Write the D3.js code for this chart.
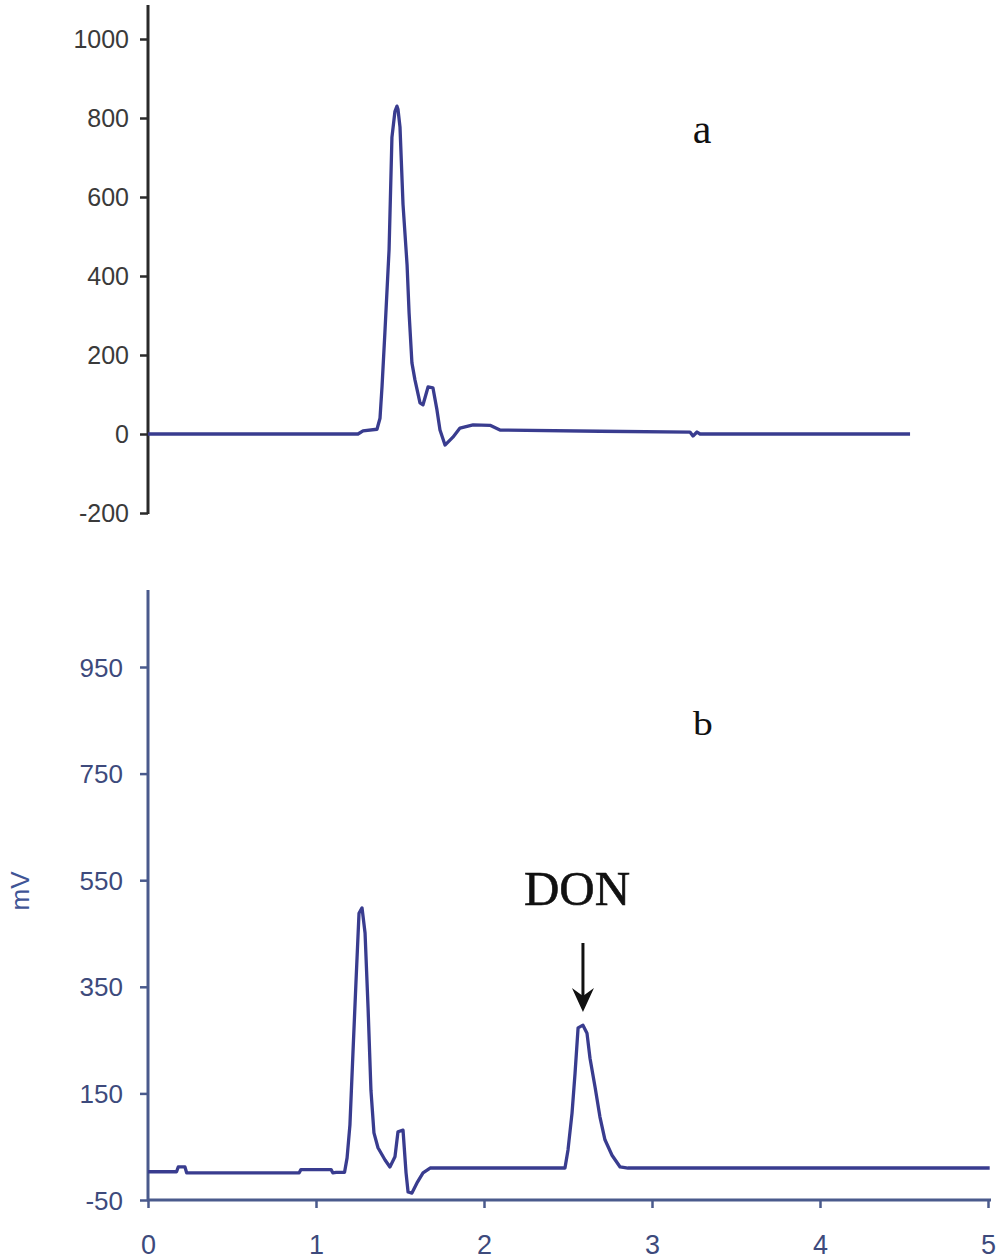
<!DOCTYPE html>
<html><head><meta charset="utf-8">
<script src="https://cdn.jsdelivr.net/npm/d3@7"></script>
<style>body{margin:0;background:#fff}</style>
</head><body>
<svg id="c" width="1000" height="1260"></svg>
<script>
// Panel a (top) chromatogram: time (min) and signal
const timeA = [0, 1.25, 1.28, 1.363, 1.381, 1.393, 1.41, 1.435, 1.452, 1.47, 1.482, 1.488, 1.5, 1.518, 1.542, 1.554, 1.571, 1.589, 1.619, 1.637, 1.667, 1.696, 1.72, 1.738, 1.768, 1.815, 1.857, 1.935, 2.036, 2.095, 2.69, 3.226, 3.244, 3.268, 3.286, 4.536];
const signalA = [0, 0, 8, 12, 40, 120, 256, 467, 751, 817, 830, 822, 777, 581, 429, 307, 180, 137, 79, 74, 119, 117, 61, 10, -28, -8, 15, 23, 22, 10, 7, 5, -5, 5, 0, 0];
// Panel b (bottom) chromatogram
const timeB = [0, 0.17, 0.18, 0.22, 0.23, 0.9, 0.91, 1.09, 1.1, 1.12, 1.17, 1.185, 1.202, 1.22, 1.238, 1.256, 1.274, 1.292, 1.31, 1.327, 1.345, 1.369, 1.411, 1.44, 1.47, 1.488, 1.518, 1.536, 1.548, 1.571, 1.601, 1.637, 1.679, 2.482, 2.5, 2.524, 2.542, 2.56, 2.589, 2.613, 2.631, 2.661, 2.69, 2.72, 2.762, 2.81, 2.857, 5.01];
const signalB = [3, 3, 12, 12, 1, 1, 7, 7, 1, 2, 2, 29, 91, 226, 359, 488, 498, 451, 310, 156, 76, 48, 25, 12, 31, 78, 81, 1, -35, -37, -18, 1, 10, 10, 44, 113, 188, 273, 278, 263, 216, 162, 106, 63, 34, 12, 10, 10];
const ticksA = [-200, 0, 200, 400, 600, 800, 1000];
const ticksB = [-50, 150, 350, 550, 750, 950];
const ticksX = [0, 1, 2, 3, 4, 5];

const svg = d3.select("#c");
const x = d3.scaleLinear().domain([0, 5]).range([148, 988]);
const yA = d3.scaleLinear().domain([-200, 1000]).range([513, 39]);
const yB = d3.scaleLinear().domain([-50, 950]).range([1200, 667]);
const fmt = d => String(d);

const traceColor = "#393c8f";
const sans = "Liberation Sans, Arial, sans-serif";
const serif = "Liberation Serif, Times New Roman, serif";

// Top axis
const gA = svg.append("g").attr("transform", "translate(148,0)");
gA.append("line").attr("x1", 0).attr("x2", 0).attr("y1", 5).attr("y2", yA(-200) + 1)
  .attr("stroke", "#2a2a2a").attr("stroke-width", 3);
const axA = d3.axisLeft(yA).tickValues(ticksA).tickFormat(fmt).tickSize(8).tickSizeOuter(0).tickPadding(11);
const gAx = gA.append("g").call(axA);
gAx.select(".domain").remove();
gAx.selectAll(".tick line").attr("stroke", "#2a2a2a").attr("stroke-width", 2.5);
gAx.selectAll(".tick text").attr("fill", "#3a3a3a").attr("font-family", sans)
  .attr("font-size", 25).attr("dy", "0.35em");

// Bottom axes
const axisBlue = "#4a5a8c";
const gB = svg.append("g").attr("transform", "translate(148,0)");
gB.append("line").attr("x1", 0).attr("x2", 0).attr("y1", 590).attr("y2", 1201)
  .attr("stroke", axisBlue).attr("stroke-width", 3);
const axB = d3.axisLeft(yB).tickValues(ticksB).tickFormat(fmt).tickSize(8).tickSizeOuter(0).tickPadding(17);
const gBx = gB.append("g").call(axB);
gBx.select(".domain").remove();
gBx.selectAll(".tick line").attr("stroke", axisBlue).attr("stroke-width", 2.5);
gBx.selectAll(".tick text").attr("fill", "#3d4a7c").attr("font-family", sans)
  .attr("font-size", 26).attr("dy", "0.35em");

const gX = svg.append("g").attr("transform", "translate(0,1200)");
gX.append("line").attr("x1", 147).attr("x2", 991).attr("y1", 0).attr("y2", 0)
  .attr("stroke", axisBlue).attr("stroke-width", 3);
const axX = d3.axisBottom(x).tickValues(ticksX).tickFormat(fmt).tickSize(8).tickSizeOuter(0).tickPadding(27);
const gXx = gX.append("g").call(axX);
gXx.select(".domain").remove();
gXx.selectAll(".tick line").attr("stroke", axisBlue).attr("stroke-width", 2.5);
gXx.selectAll(".tick text").attr("fill", "#3d4a7c").attr("font-family", sans)
  .attr("font-size", 27);

// mV label
svg.append("text").attr("transform", "translate(29,891) rotate(-90)")
  .attr("text-anchor", "middle").attr("fill", "#3f5596")
  .attr("font-family", sans).attr("font-size", 26).text("mV");

// Traces
const dataA = timeA.map((t, i) => [t, signalA[i]]);
const dataB = timeB.map((t, i) => [t, signalB[i]]);
svg.append("path").datum(dataA)
  .attr("d", d3.line().x(d => x(d[0])).y(d => yA(d[1])))
  .attr("fill", "none").attr("stroke", traceColor).attr("stroke-width", 3.3).attr("stroke-linejoin", "round");
svg.append("path").datum(dataB)
  .attr("d", d3.line().x(d => x(d[0])).y(d => yB(d[1])))
  .attr("fill", "none").attr("stroke", traceColor).attr("stroke-width", 3.3).attr("stroke-linejoin", "round");

// Panel labels
svg.append("text").attr("x", 702).attr("y", 143).attr("text-anchor", "middle")
  .attr("font-family", serif).attr("font-size", 42).attr("fill", "#111").text("a");
svg.append("text").attr("x", 703).attr("y", 735).attr("text-anchor", "middle")
  .attr("font-family", serif).attr("font-size", 33).attr("fill", "#111")
  .attr("transform", "translate(703,735) scale(1.2,1) translate(-703,-735)").text("b");

// DON annotation
svg.append("text").attr("x", 577).attr("y", 905).attr("text-anchor", "middle")
  .attr("font-family", serif).attr("font-size", 49).attr("fill", "#111")
  .attr("stroke", "#111").attr("stroke-width", 0.6).text("DON");
const ax0 = x(2.589);
svg.append("line").attr("x1", ax0).attr("x2", ax0).attr("y1", 943).attr("y2", 1005)
  .attr("stroke", "#111").attr("stroke-width", 3);
svg.append("path").attr("d", `M${ax0 - 11},988 L${ax0},1012 L${ax0 + 11},988 L${ax0},996 Z`)
  .attr("fill", "#111");
</script>
</body></html>
